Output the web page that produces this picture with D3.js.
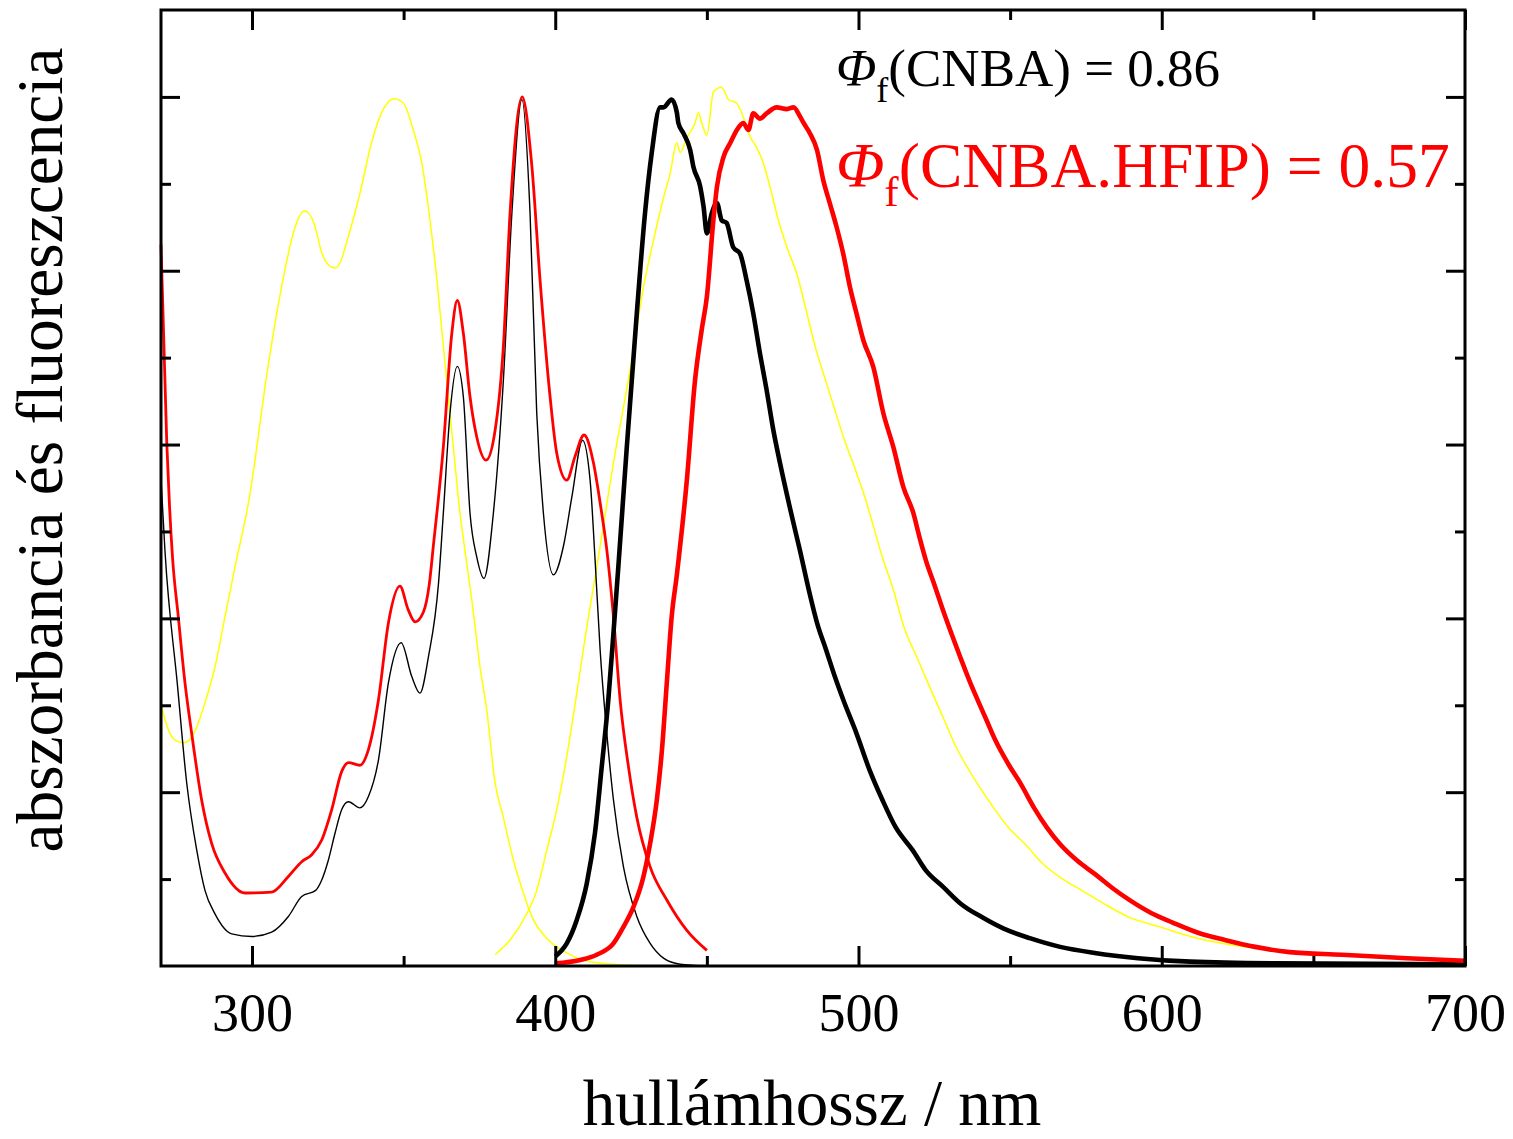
<!DOCTYPE html>
<html>
<head>
<meta charset="utf-8">
<script src="https://cdn.jsdelivr.net/npm/d3@7"></script>
<style>
  html, body { margin: 0; padding: 0; background: #fff; }
  svg text { font-family: "Liberation Serif", "Times New Roman", serif; }
</style>
</head>
<body>
<svg id="chart" width="1513" height="1139"></svg>
<script>
// -----------------------------
//  SPECTRA  [wavelength nm, relative intensity]
// -----------------------------

// absorption, CNBA (thin black)
const absCNBA = [
    [270, 0.56], [271.3, 0.478], [275.4, 0.324], [278.5, 0.21], [281.8, 0.133], [284.5, 0.087],
    [287.8, 0.06], [293.3, 0.037], [300, 0.034], [306.5, 0.039], [312, 0.057],
    [316.4, 0.08], [321, 0.087], [323, 0.099], [325.2, 0.122], [327.4, 0.153], [329.6, 0.18],
    [331.8, 0.189], [335.6, 0.182], [338.4, 0.195], [341.7, 0.237], [345, 0.326], [349.2, 0.372],
    [352.7, 0.333], [355.4, 0.314], [358.2, 0.356], [361.5, 0.44], [363.1, 0.521], [365.3, 0.636],
    [367.7, 0.69], [369.7, 0.655], [371.9, 0.521], [374.1, 0.471], [376.5, 0.446], [379.6, 0.521],
    [382.9, 0.674], [385.7, 0.866], [389, 0.997], [391.7, 0.866], [393.9, 0.636], [396.1, 0.521],
    [399.4, 0.45], [402.7, 0.483], [405.5, 0.54], [409, 0.605], [411.5, 0.559], [413.1, 0.47],
    [414.8, 0.364], [417, 0.268], [419.2, 0.191], [422.5, 0.114], [426.9, 0.057], [431.3, 0.026],
    [435.7, 0.009], [441.2, 0.002], [450, 0]
];

// absorption, CNBA.HFIP (thin red)
const absHFIP = [
    [270, 0.83], [271.9, 0.602], [272.8, 0.53], [273.8, 0.47], [275.7, 0.402], [277.9, 0.326],
    [280.1, 0.268], [283.4, 0.191], [286.7, 0.141], [291.1, 0.107], [297.7, 0.084], [306.5, 0.085],
    [312, 0.103], [316.4, 0.12], [319.7, 0.128], [323, 0.145], [326.3, 0.18], [329.6, 0.224],
    [331.8, 0.234], [335.6, 0.231], [338.4, 0.249], [341.7, 0.306], [345, 0.395], [348.8, 0.437],
    [351.5, 0.41], [353.8, 0.396], [356.5, 0.407], [358.5, 0.44], [359.8, 0.483], [363.1, 0.597],
    [365.9, 0.728], [367.7, 0.766], [369.7, 0.728], [371.9, 0.655], [374.1, 0.609], [377.2, 0.582],
    [380.2, 0.617], [382.9, 0.713], [385.1, 0.866], [389.1, 1.0], [392.2, 0.924], [395, 0.789],
    [398.3, 0.655], [400.5, 0.59], [403.8, 0.559], [406.5, 0.586], [409.5, 0.611], [412.6, 0.579],
    [414.8, 0.533], [417, 0.479], [419.2, 0.402], [421.4, 0.306], [424.2, 0.228], [426.9, 0.171],
    [431.3, 0.114], [436.8, 0.076], [443.4, 0.041], [450, 0.018]
];

// absorption, reference (thin yellow)
const absRef = [
    [270, 0.3], [272.4, 0.272], [274.6, 0.26], [277.7, 0.257], [281.2, 0.27], [284.5, 0.303],
    [287.8, 0.344], [291.1, 0.402], [294.4, 0.459], [299, 0.536], [305.3, 0.69], [310.4, 0.793],
    [314.2, 0.85], [317.3, 0.869], [320.5, 0.854], [323.1, 0.82], [324.9, 0.808], [327.4, 0.803],
    [329.4, 0.812], [331.3, 0.834], [333.2, 0.857], [335.6, 0.889], [339.4, 0.947], [343.2, 0.985],
    [346.8, 0.998], [349.9, 0.993], [353.2, 0.962], [356, 0.924], [358.7, 0.858], [361, 0.789],
    [362.6, 0.732], [364.2, 0.674], [366.4, 0.597], [368.6, 0.521], [370.8, 0.464], [372.5, 0.421],
    [375.2, 0.344], [377.4, 0.295], [380.2, 0.21], [382.9, 0.171], [386.2, 0.122], [389.5, 0.084],
    [392.8, 0.053], [397.2, 0.032], [403.8, 0.015], [411.5, 0.005], [424.7, 0.001], [450, 0]
];

// emission, reference (thin yellow)
const emRef = [
    [380.2, 0.013], [385.1, 0.03], [389.5, 0.053], [393.9, 0.087], [397.2, 0.133], [400.5, 0.18],
    [403.8, 0.241], [407.1, 0.314], [410.4, 0.39], [413.7, 0.459], [419.2, 0.579], [424.7, 0.686],
    [429.1, 0.781], [432.4, 0.835], [435.7, 0.884], [437.9, 0.912], [440.1, 0.947], [441.2, 0.936],
    [443.4, 0.953], [446.1, 0.97], [447.2, 0.982], [448.3, 0.97], [450, 0.956], [452.2, 1.006],
    [454.9, 1.011], [457.1, 0.997], [459.8, 0.993], [462, 0.977], [464.3, 0.954], [466.4, 0.942],
    [468.6, 0.924], [470.8, 0.897], [473.6, 0.858], [476.4, 0.827], [479.7, 0.796], [483, 0.751],
    [485.7, 0.713], [488.4, 0.682], [491.2, 0.651], [495, 0.609], [499.4, 0.567], [502.5, 0.535],
    [505, 0.505], [507.9, 0.47], [511.5, 0.433], [515, 0.39], [519.3, 0.355], [523.6, 0.32],
    [527.9, 0.286], [532.2, 0.252], [537.9, 0.217], [543.6, 0.187], [549.3, 0.16], [555, 0.14],
    [560.7, 0.118], [566.5, 0.102], [573.6, 0.087], [580.8, 0.072], [589.3, 0.056], [599.4, 0.045],
    [609.4, 0.034], [623.6, 0.024], [638, 0.018], [659.4, 0.013], [680.9, 0.009], [700, 0.007]
];

// emission, CNBA (thick black)
const emCNBA = [
    [400, 0.011], [403.8, 0.026], [407.1, 0.053], [410.4, 0.095], [413.1, 0.153], [415.3, 0.228],
    [417.5, 0.306], [419.2, 0.383], [420.8, 0.459], [423.6, 0.597], [426.9, 0.751], [429.6, 0.866],
    [431.8, 0.935], [434.6, 0.988], [435.7, 0.988], [438.4, 0.997], [440.1, 0.982], [440.6, 0.97],
    [442.3, 0.958], [444.5, 0.939], [445.6, 0.919], [447.8, 0.897], [448.9, 0.874], [450, 0.843],
    [451.6, 0.866], [453.3, 0.878], [454.9, 0.858], [456.5, 0.855], [458.7, 0.827], [460.9, 0.82],
    [463.1, 0.789], [465.3, 0.751], [467.5, 0.705], [469.7, 0.663], [471.9, 0.617], [474.1, 0.579],
    [477.4, 0.527], [480.7, 0.478], [483.6, 0.433], [486.4, 0.394], [489.3, 0.364], [492.2, 0.333],
    [495, 0.306], [499.3, 0.268], [503.6, 0.226], [507.9, 0.191], [512.2, 0.16], [517.9, 0.133],
    [522.2, 0.11], [527.9, 0.091], [533.6, 0.072], [540.8, 0.056], [547.9, 0.043], [556.5, 0.032],
    [566.5, 0.022], [577.9, 0.015], [592.2, 0.009], [609.4, 0.005], [638, 0.003], [700, 0.002]
];

// emission, CNBA.HFIP (thick red)
const emHFIP = [
    [400, 0.003], [408.2, 0.007], [413.7, 0.013], [419.2, 0.026], [422.5, 0.045], [425.8, 0.068],
    [429.1, 0.103], [431.3, 0.141], [433.5, 0.191], [435.2, 0.249], [436.8, 0.326], [438.4, 0.402],
    [440.1, 0.45], [443.4, 0.559], [446.1, 0.674], [448.3, 0.732], [450, 0.77], [452.2, 0.86],
    [453.3, 0.896], [455.5, 0.931], [457.7, 0.947], [459.9, 0.962], [462, 0.97], [463.7, 0.962],
    [465.3, 0.981], [467.5, 0.975], [469.7, 0.981], [473, 0.988], [476.4, 0.986], [478.6, 0.988],
    [480.8, 0.977], [481.9, 0.97], [484, 0.958], [486.3, 0.939], [488.4, 0.904], [490.6, 0.877],
    [492.8, 0.85], [495, 0.819], [497.2, 0.781], [499.4, 0.75], [501.6, 0.72], [504.9, 0.689],
    [508.2, 0.636], [511.5, 0.597], [514.8, 0.551], [518.1, 0.521], [520, 0.495], [522.2, 0.467],
    [525, 0.439], [527.9, 0.409], [530.7, 0.382], [533.6, 0.355], [536.5, 0.329], [539.3, 0.306],
    [542.2, 0.283], [545.1, 0.26], [549.3, 0.233], [553.6, 0.209], [557.9, 0.182], [562.2, 0.159],
    [566.5, 0.14], [572.2, 0.121], [577.9, 0.106], [583.6, 0.09], [589.3, 0.076], [596.5, 0.061],
    [603.6, 0.05], [612.2, 0.038], [620.8, 0.03], [630.8, 0.022], [642.2, 0.016], [659.4, 0.013],
    [680.9, 0.009], [700, 0.006]
];

// ticks
const xMajorTicks = [300, 400, 500, 600, 700];
const xMinorTicks = [350, 450, 550, 650];
const yMajorTicks = [0.2, 0.4, 0.6, 0.8, 1.0];
const yMinorTicks = [0.1, 0.3, 0.5, 0.7, 0.9];

// -----------------------------
//  SCALES
// -----------------------------
const svg = d3.select("#chart");
const plot = { left: 161, right: 1465, top: 10, bottom: 966 };

const x = d3.scaleLinear().domain([270, 700]).range([plot.left, plot.right]);
const y = d3.scaleLinear().domain([0, 1.1]).range([plot.bottom, plot.top]);

// -----------------------------
//  CURVES
// -----------------------------
const line = d3.line()
    .x((d) => x(d[0]))
    .y((d) => y(d[1]))
    .curve(d3.curveMonotoneX);

const series = [
    { data: absRef, color: "#ffff00", width: 1.5 },
    { data: emRef, color: "#ffff00", width: 1.5 },
    { data: absCNBA, color: "#000000", width: 1.4 },
    { data: absHFIP, color: "#ff0000", width: 2.8 },
    { data: emCNBA, color: "#000000", width: 4.6 },
    { data: emHFIP, color: "#ff0000", width: 4.6 }
];

svg.append("g")
    .attr("class", "curves")
    .selectAll("path")
    .data(series)
    .enter()
    .append("path")
    .attr("d", (d) => line(d.data))
    .attr("fill", "none")
    .attr("stroke", (d) => d.color)
    .attr("stroke-width", (d) => d.width)
    .attr("stroke-linejoin", "round");

// -----------------------------
//  AXES (inward ticks on all sides)
// -----------------------------
function styleAxis(g) {
    g.select(".domain").remove();
    g.selectAll(".tick line").attr("stroke", "#000").attr("stroke-width", 3);
}

svg.append("g")
    .attr("transform", `translate(0,${plot.bottom})`)
    .call(d3.axisBottom(x).tickValues(xMajorTicks).tickSize(-20).tickPadding(27).tickFormat(d3.format("d")))
    .call(styleAxis)
    .call((g) => g.selectAll(".tick text")
        .attr("font-size", 54)
        .attr("font-family", "Liberation Serif, Times New Roman, serif")
        .attr("fill", "#000"));

svg.append("g")
    .attr("transform", `translate(0,${plot.bottom})`)
    .call(d3.axisBottom(x).tickValues(xMinorTicks).tickSize(-10).tickFormat(""))
    .call(styleAxis);

svg.append("g")
    .attr("transform", `translate(0,${plot.top})`)
    .call(d3.axisTop(x).tickValues(xMajorTicks).tickSize(-20).tickFormat(""))
    .call(styleAxis);

svg.append("g")
    .attr("transform", `translate(0,${plot.top})`)
    .call(d3.axisTop(x).tickValues(xMinorTicks).tickSize(-10).tickFormat(""))
    .call(styleAxis);

svg.append("g")
    .attr("transform", `translate(${plot.left},0)`)
    .call(d3.axisLeft(y).tickValues(yMajorTicks).tickSize(-19).tickFormat(""))
    .call(styleAxis);

svg.append("g")
    .attr("transform", `translate(${plot.left},0)`)
    .call(d3.axisLeft(y).tickValues(yMinorTicks).tickSize(-10).tickFormat(""))
    .call(styleAxis);

svg.append("g")
    .attr("transform", `translate(${plot.right},0)`)
    .call(d3.axisRight(y).tickValues(yMajorTicks).tickSize(-19).tickFormat(""))
    .call(styleAxis);

svg.append("g")
    .attr("transform", `translate(${plot.right},0)`)
    .call(d3.axisRight(y).tickValues(yMinorTicks).tickSize(-10).tickFormat(""))
    .call(styleAxis);

// frame
svg.append("rect")
    .attr("x", plot.left)
    .attr("y", plot.top)
    .attr("width", plot.right - plot.left)
    .attr("height", plot.bottom - plot.top)
    .attr("fill", "none")
    .attr("stroke", "#000")
    .attr("stroke-width", 3);

// -----------------------------
//  LABELS
// -----------------------------
svg.append("text")
    .attr("x", 812)
    .attr("y", 1125)
    .attr("text-anchor", "middle")
    .attr("font-size", 65)
    .text("hullámhossz / nm");

svg.append("text")
    .attr("transform", "translate(62,450) rotate(-90)")
    .attr("text-anchor", "middle")
    .attr("font-size", 65.3)
    .text("abszorbancia és fluoreszcencia");

// quantum yields
function phiLabel(xPos, yPos, size, color, rest) {
    const t = svg.append("text")
        .attr("x", xPos)
        .attr("y", yPos)
        .attr("font-size", size)
        .attr("fill", color);
    t.append("tspan").attr("font-style", "italic").text("Φ");
    t.append("tspan").attr("font-size", size * 0.68).attr("dy", size * 0.3).text("f");
    t.append("tspan").attr("dy", -size * 0.3).text(rest);
}

phiLabel(836, 86, 53, "#000", "(CNBA) = 0.86");
phiLabel(836, 187, 63.5, "#ff0000", "(CNBA.HFIP) = 0.57");
</script>
</body>
</html>
